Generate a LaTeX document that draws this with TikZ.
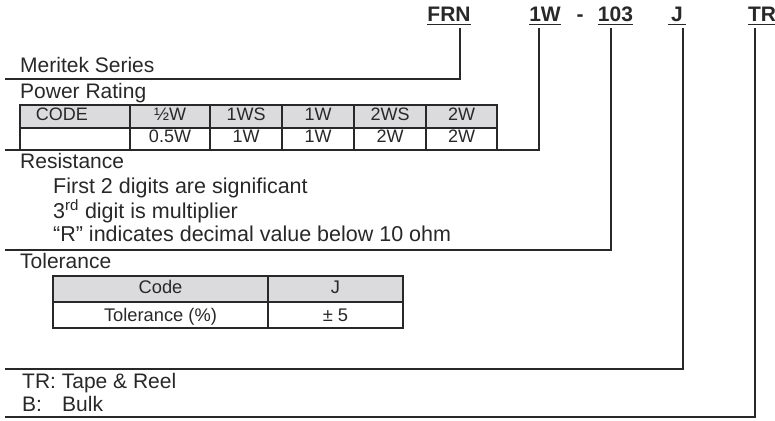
\documentclass[tikz,border=0pt]{standalone}
\usepackage{fontspec}
\setmainfont{Liberation Sans}
\definecolor{hdrgray}{RGB}{219,219,221}
\definecolor{ink}{RGB}{40,40,40}
\begin{document}
\begin{tikzpicture}[x=1pt,y=-1pt,
  txt/.style={anchor=base west, inner sep=0pt, text=ink, font=\fontsize{21}{24}\selectfont},
  subtxt/.style={anchor=base west, inner sep=0pt, text=ink, font=\fontsize{21.5}{24}\selectfont},
  codehdr/.style={anchor=base, inner sep=0pt, text=ink, font=\fontsize{21}{24}\selectfont\bfseries},
  uline/.style={line width=1.8pt, draw=ink},
  rule/.style={line width=1.3pt, draw=ink},
  tbl/.style={line width=1.3pt, draw=ink},
  cell/.style={anchor=base, inner sep=0pt, text=ink, font=\fontsize{18}{20}\selectfont},
  tcell/.style={anchor=base, inner sep=0pt, text=ink, font=\fontsize{18.3}{20}\selectfont}]
\useasboundingbox (0,0) rectangle (775,420);

% ---- part number header ----
\node[codehdr] (frn) at (449,22) {FRN};
\node[codehdr] (pw)  at (545,22) {1W};
\node[codehdr] (dash) at (580,22) {-};
\node[codehdr] (res) at (615.5,22) {103};
\node[codehdr] (tol) at (677,22) {J};
\node[codehdr] (pkg) at (762,22) {TR};
\foreach \n in {frn,pw,res,pkg}
  \draw[uline] ([yshift=-2.5pt]\n.base west) -- ([yshift=-2.5pt]\n.base east);
\draw[uline] ([xshift=-3pt,yshift=-2.5pt]tol.base west) -- ([xshift=3pt,yshift=-2.5pt]tol.base east);

% ---- connector corners and left ends ----
\coordinate (kfrn) at (460,79);  \coordinate (lfrn) at (5,79);
\coordinate (kpw)  at (539,150); \coordinate (lpw)  at (5,150);
\coordinate (kres) at (611,250); \coordinate (lres) at (5,250);
\coordinate (ktol) at (683,369); \coordinate (ltol) at (5,369);
\coordinate (kpkg) at (755,417); \coordinate (lpkg) at (5,417);

\draw[rule] (kfrn |- frn.south) ++(0,6) -- (kfrn) -- (lfrn);
\draw[rule] (kpw  |- pw.south)  ++(0,6) -- (kpw)  -- (lpw);
\draw[rule] (kres |- res.south) ++(0,6) -- (kres) -- (lres);
\draw[rule] (ktol |- tol.south) ++(0,6) -- (ktol) -- (ltol);
\draw[rule] (kpkg |- pkg.south) ++(0,6) -- (kpkg) -- (lpkg);

% ---- Meritek series ----
\node[txt] (series) at (20,72) {Meritek Series};

% ---- Power rating ----
\node[txt] (power) at (20,98) {Power Rating};
\fill[hdrgray] (20,105) rectangle (497,128);
\draw[tbl] (20,105) rectangle (497,150);
\draw[tbl] (20,128) -- (497,128);
\foreach \x in {130,210,282,354,426}
  \draw[tbl] (\x,105) -- (\x,150);
\node[cell] (pc0) at (62,120) {CODE};
\node[cell] (pc1) at (170,120) {½W};
\node[cell] (pc2) at (246,120) {1WS};
\node[cell] (pc3) at (318,120) {1W};
\node[cell] (pc4) at (390,120) {2WS};
\node[cell] (pc5) at (461.5,120) {2W};
\node[cell] (pv1) at (170,142.5) {0.5W};
\node[cell] (pv2) at (246,142.5) {1W};
\node[cell] (pv3) at (318,142.5) {1W};
\node[cell] (pv4) at (390,142.5) {2W};
\node[cell] (pv5) at (461.5,142.5) {2W};

% ---- Resistance ----
\node[txt] (resist) at (20,168) {Resistance};
\node[subtxt] (r1) at (53,193) {First 2 digits are significant};
\node[subtxt] (r2) at (53,218) {3\textsuperscript{rd} digit is multiplier};
\node[subtxt] (r3) at (53,241) {“R” indicates decimal value below 10 ohm};

% ---- Tolerance ----
\node[txt] (toler) at (20,268) {Tolerance};
\fill[hdrgray] (53,276) rectangle (403,302);
\draw[tbl] (53,276) rectangle (403,328);
\draw[tbl] (53,302) -- (403,302);
\draw[tbl] (268,276) -- (268,328);
\node[tcell] (tc0) at (160.5,293.5) {Code};
\node[tcell] (tc1) at (335.5,293.5) {J};
\node[tcell] (tv0) at (160.5,321.5) {Tolerance (\%)};
\node[tcell] (tv1) at (335.5,321.5) {± 5};

% ---- Packaging ----
\node[txt] (tr) at (22,388) {TR: Tape \& Reel};
\node[txt] (bk) at (22,411) {B:};
\node[txt] (bulk) at (62,411) {Bulk};
\end{tikzpicture}
\end{document}
